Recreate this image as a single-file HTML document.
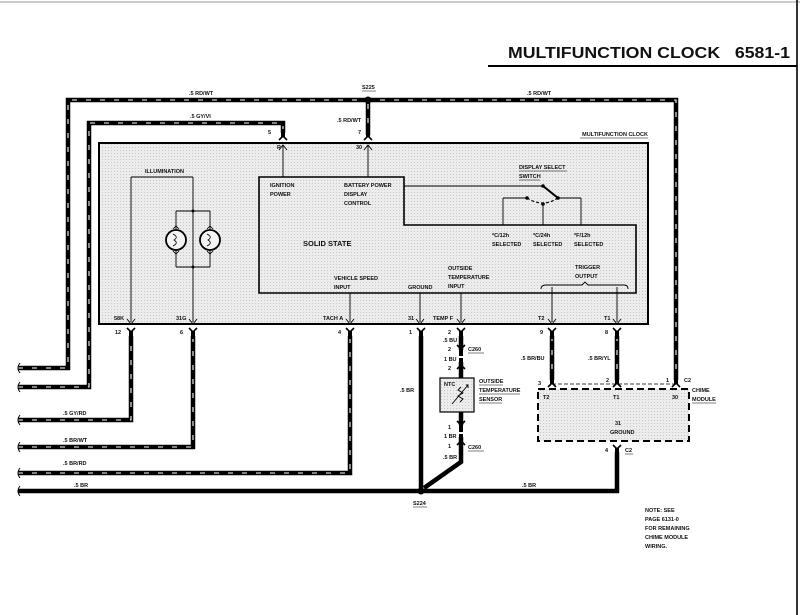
<!DOCTYPE html>
<html><head><style>
body{margin:0;background:#fff}
svg{display:block}
text{font-family:"Liberation Sans",sans-serif;font-size:5.5px;fill:#111;font-weight:bold}
.b{font-weight:bold}
</style></head><body>
<svg width="800" height="615" viewBox="0 0 800 615" xmlns="http://www.w3.org/2000/svg">
<defs>
<pattern id="dots" width="3" height="3" patternUnits="userSpaceOnUse"><rect width="3" height="3" fill="#ececec"/><rect width="1" height="1" fill="#c8c8c8"/></pattern>
<g id="pin"><path d="M-4,-3 L0,1 L4,-3" fill="none" stroke="#000" stroke-width="1.6"/><line x1="0" y1="0" x2="0" y2="8" stroke="#000" stroke-width="4"/></g>
<g id="pinu"><path d="M-4,3 L0,-1 L4,3" fill="none" stroke="#000" stroke-width="1.6"/><line x1="0" y1="0" x2="0" y2="-8" stroke="#000" stroke-width="4"/></g>
</defs>
<line x1="0" y1="2" x2="800" y2="2" stroke="#999" stroke-width="1"/>
<line x1="797" y1="0" x2="797" y2="615" stroke="#333" stroke-width="2"/>
<text x="508" y="58" class="b" style="font-size:16px" textLength="282" lengthAdjust="spacingAndGlyphs">MULTIFUNCTION CLOCK&#160;&#160; 6581-1</text>
<line x1="488" y1="66" x2="797" y2="66" stroke="#000" stroke-width="2"/>

<rect x="99" y="143" width="549" height="181" fill="url(#dots)" stroke="#000" stroke-width="2"/>
<text x="648" y="136" text-anchor="end">MULTIFUNCTION CLOCK</text>
<line x1="580" y1="138" x2="648" y2="138" stroke="#000" stroke-width="0.6"/>
<path d="M259,177 H404 V225 H636 V293 H259 Z" fill="none" stroke="#000" stroke-width="1.6"/>
<g stroke="#000" stroke-width="0.9" fill="none">
<line x1="283" y1="145" x2="283" y2="177"/><line x1="368" y1="145" x2="368" y2="177"/>
<line x1="404" y1="186" x2="543" y2="186"/>
<line x1="503" y1="198" x2="527" y2="198"/><line x1="503" y1="198" x2="503" y2="225"/>
<line x1="543" y1="204" x2="543" y2="225"/>
<line x1="558" y1="198" x2="581" y2="198"/><line x1="581" y1="198" x2="581" y2="225"/>
<line x1="543" y1="186" x2="558" y2="198" stroke-width="2"/>
<path d="M527,198 Q543,208 558,198" stroke-dasharray="3 2" stroke-width="1.2"/>
<line x1="131" y1="177" x2="193" y2="177"/><line x1="131" y1="177" x2="131" y2="322"/>
<line x1="193" y1="177" x2="193" y2="322"/>
<line x1="176" y1="211" x2="210" y2="211"/><line x1="176" y1="267" x2="210" y2="267"/>
<line x1="176" y1="211" x2="176" y2="267"/><line x1="210" y1="211" x2="210" y2="267"/>
<line x1="350" y1="293" x2="350" y2="322"/><line x1="420" y1="293" x2="420" y2="322"/>
<line x1="461" y1="293" x2="461" y2="322"/><line x1="552" y1="287" x2="552" y2="322"/><line x1="617" y1="287" x2="617" y2="322"/>
<path d="M541,289 Q541,285 546,285 H582 L585,282 L588,285 H624 Q628,285 628,289"/>
<path d="M279,150 L283,145 L287,150 M364,150 L368,145 L372,150"/>
<path d="M127,319 L131,324 L135,319 M189,319 L193,324 L197,319 M346,319 L350,324 L354,319 M416,319 L420,324 L424,319 M457,319 L461,324 L465,319 M548,319 L552,324 L556,319 M613,319 L617,324 L621,319"/>
</g>
<g fill="#000"><circle cx="543" cy="186" r="1.8"/><circle cx="527" cy="198" r="1.8"/><circle cx="543" cy="204" r="1.8"/><circle cx="558" cy="198" r="1.8"/><circle cx="193" cy="211" r="1.5"/><circle cx="193" cy="267" r="1.5"/></g>
<g fill="#f4f4f4" stroke="#000" stroke-width="1.8"><circle cx="176" cy="240" r="10"/><circle cx="210" cy="240" r="10"/></g>
<g fill="none" stroke="#000" stroke-width="0.8"><path d="M173,234 Q179,237 174,240 Q179,243 173,246"/><path d="M207,234 Q213,237 208,240 Q213,243 207,246"/>
<path d="M173,229 L176,226 L179,229 M173,251 L176,254 L179,251 M207,229 L210,226 L213,229 M207,251 L210,254 L213,251"/></g>
<text x="145" y="173">ILLUMINATION</text>
<text x="270" y="187">IGNITION</text><text x="270" y="196">POWER</text>
<text x="344" y="187">BATTERY POWER</text><text x="344" y="196">DISPLAY</text><text x="344" y="205">CONTROL</text>
<text x="303" y="246" style="font-size:7.5px">SOLID STATE</text>
<text x="519" y="169">DISPLAY SELECT</text><line x1="519" y1="171" x2="567" y2="171" stroke="#000" stroke-width="0.5"/>
<text x="519" y="178">SWITCH</text><line x1="519" y1="180" x2="540" y2="180" stroke="#000" stroke-width="0.5"/>
<text x="492" y="237">*C/12h</text><text x="492" y="246">SELECTED</text>
<text x="533" y="237">*C/24h</text><text x="533" y="246">SELECTED</text>
<text x="574" y="237">*F/12h</text><text x="574" y="246">SELECTED</text>
<text x="575" y="269">TRIGGER</text><text x="575" y="278">OUTPUT</text>
<text x="448" y="270">OUTSIDE</text><text x="448" y="279">TEMPERATURE</text><text x="448" y="288">INPUT</text>
<text x="408" y="289">GROUND</text>
<text x="334" y="280">VEHICLE SPEED</text><text x="334" y="289">INPUT</text>
<text x="114" y="320">58K</text><text x="176" y="320">31G</text><text x="323" y="320">TACH A</text>
<text x="408" y="320">31</text><text x="433" y="320">TEMP F</text><text x="538" y="320">T2</text><text x="604" y="320">T1</text>
<text x="277" y="149">R</text><text x="356" y="149">30</text>

<rect x="538" y="389" width="151" height="52" fill="url(#dots)" stroke="#000" stroke-width="2" stroke-dasharray="7 4"/>
<line x1="552" y1="384" x2="676" y2="384" stroke="#000" stroke-width="0.8" stroke-dasharray="4 2"/>
<text x="543" y="399">T2</text><text x="613" y="399">T1</text><text x="672" y="399">30</text>
<text x="615" y="425">31</text><text x="610" y="434">GROUND</text>

<rect x="440" y="378" width="34" height="34" fill="url(#dots)" stroke="#000" stroke-width="1.2"/>
<text x="444" y="386">NTC</text>
<path d="M452,404 L468,385 M466,385 L468,385 L468,388" stroke="#000" stroke-width="0.9" fill="none"/>
<path d="M461,387 l-3,3 l5,3 l-5,3 l5,3 l-3,3" stroke="#000" stroke-width="0.9" fill="none"/>

<g fill="none" stroke-linejoin="miter">
<g stroke="#000" stroke-width="4.5">
<path d="M18,368 H68 V100 H676 V380"/>
<path d="M18,387 H89 V123 H283 V133"/>
<path d="M368,100 V135"/>
<path d="M18,420 H131 V336"/>
<path d="M18,447 H193 V336"/>
<path d="M18,473 H350 V336"/>
<path d="M552,336 V380"/><path d="M617,336 V380"/>
</g>
<g stroke="#fff" stroke-width="1.1" stroke-dasharray="5 9">
<path d="M18,368 H68 V100 H676 V380"/>
<path d="M18,387 H89 V123 H283 V133"/>
<path d="M368,104 V135"/>
<path d="M18,420 H131 V336"/>
<path d="M18,447 H193 V336"/>
<path d="M18,473 H350 V336"/>
<path d="M552,336 V380"/><path d="M617,336 V380"/>
</g>
<g stroke="#000" stroke-width="4.5">
<path d="M18,491 H617 V452"/>
<path d="M421,336 V491"/>
<path d="M461,336 V350 M461,362 V372 M461,412 V425 M461,437 V462 L424,488"/>
<line x1="461" y1="372" x2="461" y2="378"/>
</g>
</g>
<g stroke="#000" stroke-width="1" fill="none"><path d="M20,363 q-4,5 0,10 M20,382 q-4,5 0,10 M20,415 q-4,5 0,10 M20,442 q-4,5 0,10 M20,468 q-4,5 0,10 M20,486 q-4,5 0,10"/></g>
<use href="#pin" x="131" y="331"/><use href="#pin" x="193" y="331"/><use href="#pin" x="350" y="331"/>
<use href="#pin" x="421" y="331"/><use href="#pin" x="461" y="331"/><use href="#pin" x="552" y="331"/><use href="#pin" x="617" y="331"/>
<use href="#pinu" x="283" y="137"/><use href="#pinu" x="368" y="137"/>
<use href="#pinu" x="552" y="384"/><use href="#pinu" x="617" y="384"/><use href="#pinu" x="676" y="384"/>
<use href="#pin" x="617" y="448"/>
<use href="#pin" x="461" y="348"/><use href="#pinu" x="461" y="366"/>
<use href="#pin" x="461" y="424"/><use href="#pinu" x="461" y="442"/>
<circle cx="368" cy="100" r="3.5" fill="#000"/>
<circle cx="421" cy="491" r="3.5" fill="#000"/>

<text x="189" y="95">.5 RD/WT</text><text x="527" y="95">.5 RD/WT</text>
<text x="362" y="89">S225</text><line x1="362" y1="91" x2="376" y2="91" stroke="#000" stroke-width="0.5"/>
<text x="190" y="118">.5 GY/VI</text><text x="337" y="122">.5 RD/WT</text>
<text x="268" y="134">5</text><text x="358" y="134">7</text>
<text x="115" y="334">12</text><text x="180" y="334">6</text><text x="338" y="334">4</text><text x="409" y="334">1</text><text x="448" y="334">2</text><text x="540" y="334">9</text><text x="605" y="334">8</text>
<text x="443" y="342">.5 BU</text><text x="448" y="351">2</text><text x="468" y="351">C260</text><line x1="468" y1="353" x2="484" y2="353" stroke="#000" stroke-width="0.5"/>
<text x="444" y="361">1 BU</text><text x="448" y="370">2</text>
<text x="479" y="383">OUTSIDE</text><text x="479" y="392">TEMPERATURE</text><text x="479" y="401">SENSOR</text>
<line x1="479" y1="385" x2="503" y2="385" stroke="#000" stroke-width="0.5"/><line x1="479" y1="394" x2="520" y2="394" stroke="#000" stroke-width="0.5"/><line x1="479" y1="403" x2="502" y2="403" stroke="#000" stroke-width="0.5"/>
<text x="448" y="429">1</text><text x="444" y="438">1 BR</text><text x="448" y="448">1</text><text x="468" y="449">C260</text><line x1="468" y1="451" x2="484" y2="451" stroke="#000" stroke-width="0.5"/>
<text x="443" y="459">.5 BR</text>
<text x="400" y="392">.5 BR</text>
<text x="521" y="360">.5 BR/BU</text><text x="588" y="360">.5 BR/YL</text>
<text x="538" y="385">3</text><text x="606" y="382">2</text><text x="666" y="382">1</text><text x="684" y="382">C2</text>
<text x="692" y="392">CHIME</text><text x="692" y="401">MODULE</text><line x1="692" y1="403" x2="716" y2="403" stroke="#000" stroke-width="0.5"/>
<text x="605" y="452">4</text><text x="625" y="452">C2</text><line x1="625" y1="454" x2="633" y2="454" stroke="#000" stroke-width="0.5"/>
<text x="522" y="487">.5 BR</text>
<text x="63" y="415">.5 GY/RD</text><text x="63" y="442">.5 BR/WT</text><text x="63" y="465">.5 BR/RD</text><text x="74" y="487">.5 BR</text>
<text x="413" y="505">S224</text><line x1="413" y1="507" x2="427" y2="507" stroke="#000" stroke-width="0.5"/>
<text x="645" y="512">NOTE: SEE</text><text x="645" y="521">PAGE 6131-0</text><text x="645" y="530">FOR REMAINING</text><text x="645" y="539">CHIME MODULE</text><text x="645" y="548">WIRING.</text>
</svg>
</body></html>
